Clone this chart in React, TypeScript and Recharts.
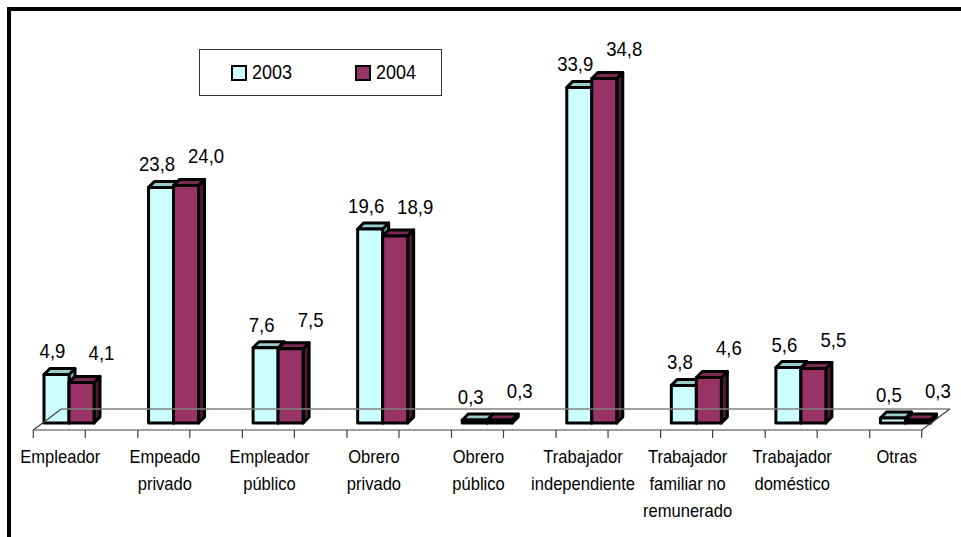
import React from 'react';
import { BarChart, Bar, XAxis, YAxis, LabelList, Legend } from 'recharts';

const CATEGORIES = [
  'Empleador',
  'Empeado\nprivado',
  'Empleador\npúblico',
  'Obrero\nprivado',
  'Obrero\npúblico',
  'Trabajador\nindependiente',
  'Trabajador\nfamiliar no\nremunerado',
  'Trabajador\ndoméstico',
  'Otras',
];
const Y2003 = [4.9, 23.8, 7.6, 19.6, 0.3, 33.9, 3.8, 5.6, 0.5];
const Y2004 = [4.1, 24.0, 7.5, 18.9, 0.3, 34.8, 4.6, 5.5, 0.3];
const SERIES = ['2003', '2004'];

const data = CATEGORIES.map((name, i) => ({ name, y2003: Y2003[i], y2004: Y2004[i] }));

const W = 961;
const H = 537;
const MARGIN = { top: 27, right: 3, left: 17, bottom: 0 };
const BAND = (W - MARGIN.left - MARGIN.right) / CATEGORIES.length;
const FONT = '"Liberation Sans", Arial, sans-serif';

const COLORS = {
  y2003: { front: '#CCFFFF', top: '#99CCCC', side: '#88BBBB' },
  y2004: { front: '#993366', top: '#7A2952', side: '#4D1A33' },
};

// depth of the 3d bars
const DX = 6;
const DY = 6;

function Bar3D(props: any) {
  const { x, y, width: w, height: h, colors } = props;
  if (w == null || h == null) return null;
  const st = { stroke: '#000', strokeWidth: 3, strokeLinejoin: 'round' as const };
  return (
    <g>
      <polygon points={`${x + w},${y} ${x + w + DX},${y - DY} ${x + w + DX},${y + h - DY} ${x + w},${y + h}`} fill={colors.side} {...st} />
      <polygon points={`${x},${y} ${x + DX},${y - DY} ${x + w + DX},${y - DY} ${x + w},${y}`} fill={colors.top} {...st} />
      <rect x={x} y={y} width={w} height={h} fill={colors.front} {...st} />
    </g>
  );
}

function AxisTick(props: any) {
  const { x, y, payload, index } = props;
  const lines = String(payload.value).split('\n');
  const last = index === CATEGORIES.length - 1;
  const fy = y + 7;
  const x0 = x - 36;
  const x1 = last ? x + 16 : x0 + BAND;
  return (
    <g>
      <line x1={x0 + 28} y1={fy - 21} x2={x1 + 28} y2={fy - 21} stroke="#808080" strokeWidth={1.5} />
      <line x1={x0} y1={fy} x2={x1} y2={fy} stroke="#404040" strokeWidth={1.2} />
      {index === 0 && <line x1={x0} y1={fy} x2={x0 + 28} y2={fy - 21} stroke="#404040" strokeWidth={1.2} />}
      {last && <line x1={x1} y1={fy} x2={x1 + 28} y2={fy - 21} stroke="#404040" strokeWidth={1.2} />}
      <line x1={x0} y1={fy} x2={x0} y2={fy + 8} stroke="#404040" strokeWidth={1.2} />
      <line x1={x + 16} y1={fy} x2={x + 16} y2={fy + 8} stroke="#404040" strokeWidth={1.2} />
      <text transform={`translate(${x - 9},${y + 40}) scale(0.92,1)`} textAnchor="middle" fontSize={18} fontFamily={FONT} fill="#000">
        {lines.map((l, i) => (
          <tspan key={i} x={0} dy={i === 0 ? 0 : 27}>{l}</tspan>
        ))}
      </text>
    </g>
  );
}

const fmt = (v: number) => v.toFixed(1).replace('.', ',');

const makeLabel = (dx: number, dy: number) => (props: any) => {
  const { x, y, width, value } = props;
  return (
    <text transform={`translate(${x + width / 2 + dx},${y + dy}) scale(0.93,1)`} textAnchor="middle" fontSize={20} fontFamily={FONT} fill="#000">
      {fmt(value)}
    </text>
  );
};

function LegendBox() {
  const item = (c: string, label: string, ml: number) => (
    <span style={{ marginLeft: ml, display: 'flex', alignItems: 'center' }}>
      <span style={{ display: 'inline-block', width: 12, height: 12, border: '2px solid #000', background: c, marginRight: 5 }} />
      <span style={{ display: 'inline-block', transform: 'scaleX(0.9)', transformOrigin: 'left center' }}>{label}</span>
    </span>
  );
  return (
    <div style={{ width: 241, height: 45, border: '1px solid #333', background: '#fff', fontFamily: FONT, fontSize: 20, display: 'flex', alignItems: 'center' }}>
      {item(COLORS.y2003.front, SERIES[0], 31)}
      {item(COLORS.y2004.front, SERIES[1], 58)}
    </div>
  );
}

export default function App() {
  return (
    <div style={{ position: 'absolute', left: 0, top: 0, width: W, height: H, overflow: 'hidden', background: '#fff' }}>
      <div style={{ position: 'absolute', left: 7, top: 7, width: 1000, height: 600, border: '4px solid #000' }} />
      <div style={{ position: 'absolute', left: 0, top: 0 }}>
        <BarChart width={W} height={H} data={data} margin={MARGIN} barSize={25} barGap={0}>
          <XAxis dataKey="name" axisLine={false} tickLine={false} tickSize={0} tickMargin={0} height={114} interval={0} tick={<AxisTick />} />
          <YAxis hide domain={[0, 40]} />
          <Legend
            layout="horizontal"
            verticalAlign="middle"
            align="center"
            wrapperStyle={{ position: 'absolute', left: 199, top: 49, width: 243 }}
            content={() => <LegendBox />}
          />
          <Bar dataKey="y2003" isAnimationActive={false} shape={(p: any) => <Bar3D {...p} colors={COLORS.y2003} />}>
            <LabelList dataKey="y2003" content={makeLabel(-4, -16)} />
          </Bar>
          <Bar dataKey="y2004" isAnimationActive={false} shape={(p: any) => <Bar3D {...p} colors={COLORS.y2004} />}>
            <LabelList dataKey="y2004" content={makeLabel(20, -22)} />
          </Bar>
        </BarChart>
      </div>
    </div>
  );
}
